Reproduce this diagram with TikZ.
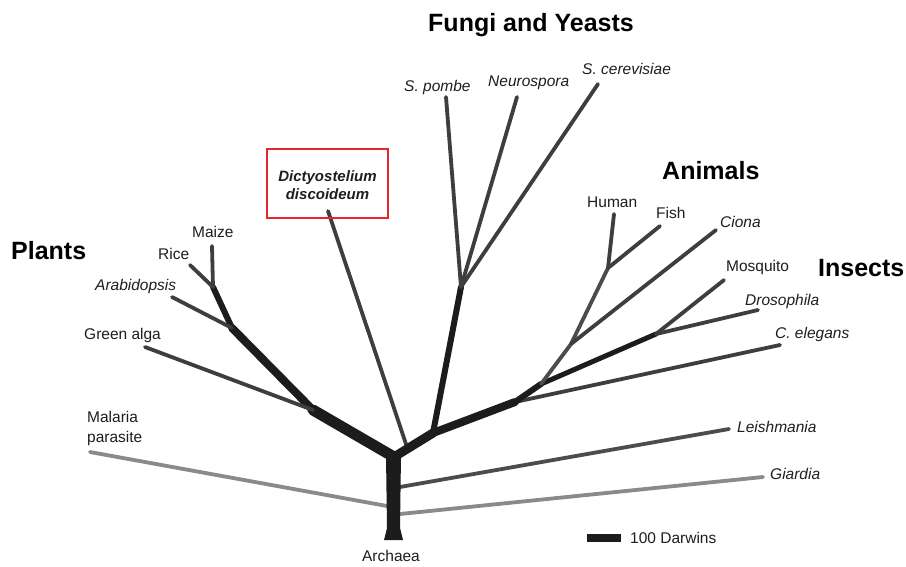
\documentclass[tikz,border=0pt]{standalone}
\usepackage{fontspec}
\setmainfont{Liberation Sans}
\begin{document}
\begin{tikzpicture}[x=1pt,y=-1pt,
  lbl/.style={inner sep=0pt,anchor=west,font=\fontsize{15.5}{17}\selectfont},
  ilbl/.style={lbl,font=\fontsize{15.5}{17}\selectfont\itshape},
  grp/.style={inner sep=0pt,anchor=west,font=\fontsize{25}{28}\selectfont\bfseries},
  br/.style={line cap=round,line join=round},
  leaf/.style={br,line width=3.8pt,draw=midgray},
  thick/.style={br,draw=treeblack}]
\definecolor{treeblack}{HTML}{1C1C1C}
\definecolor{midgray}{HTML}{3E3E3E}
\definecolor{grayb}{HTML}{4C4C4C}
\definecolor{lightgray2}{HTML}{8A8A8A}
\definecolor{boxred}{HTML}{E2262B}
\definecolor{txt}{HTML}{1E1E1E}
\useasboundingbox (0,0) rectangle (906,566);
\fill[white] (0,0) rectangle (906,566);

% junction coordinates
\coordinate (root) at (394,457);
\coordinate (pl1) at (313,410);
\coordinate (pl2) at (232,328);
\coordinate (pl3) at (213,287);
\coordinate (rj) at (433,433);
\coordinate (fj) at (461,287);
\coordinate (aj) at (515,402);
\coordinate (aj2) at (541,384);
\coordinate (ij) at (656,334);
\coordinate (cj) at (571,344);
\coordinate (vj) at (608,268);
\coordinate (tl) at (400,487);
\coordinate (tg) at (400,514);
\coordinate (tm) at (387,506);
\coordinate (td) at (407,447);

% leaf end coordinates
\coordinate (emaize) at (212,246);
\coordinate (erice) at (190,265);
\coordinate (earab) at (172,297);
\coordinate (ealga) at (145,347);
\coordinate (emal) at (90,452);
\coordinate (edict) at (328,211);
\coordinate (epombe) at (446,97);
\coordinate (eneuro) at (517,97);
\coordinate (ecere) at (598,84);
\coordinate (ehuman) at (614,214);
\coordinate (efish) at (660,226);
\coordinate (eciona) at (716,230);
\coordinate (emosq) at (724,280);
\coordinate (edros) at (758,310);
\coordinate (eeleg) at (780,345);
\coordinate (eleish) at (729,429);
\coordinate (egiar) at (763,477);

% light and grey leaves (behind)
\draw[br,line width=3.8pt,draw=lightgray2] (tm) -- (emal);
\draw[br,line width=3.8pt,draw=lightgray2] (tg) -- (egiar);
\draw[br,line width=3.8pt,draw=grayb] (tl) -- (eleish);

% trunk
\fill[treeblack] (386,455) -- (401,455) -- (400,528) -- (403,540) -- (384,540) -- (387,528) -- cycle;

% plant branch
\draw[thick,line width=11pt] (root) -- (pl1);
\draw[thick,line width=8pt] (pl1) -- (pl2);
\draw[thick,line width=6pt] (pl2) -- (pl3);
\draw[leaf] (pl1) -- (ealga);
\draw[leaf] (pl2) -- (earab);
\draw[leaf] (pl3) -- (erice);
\draw[leaf] (pl3) -- (emaize);

% Dictyostelium
\draw[leaf] (td) -- (edict);

% right side
\draw[thick,line width=9pt] (root) -- (rj);
\draw[thick,line width=6pt] (rj) -- (fj);
\draw[leaf] (fj) -- (epombe);
\draw[leaf] (fj) -- (eneuro);
\draw[leaf] (fj) -- (ecere);
\draw[thick,line width=8pt] (rj) -- (aj);
\draw[leaf] (aj) -- (eeleg);
\draw[thick,line width=6pt] (aj) -- (aj2);
\draw[thick,line width=5pt] (aj2) -- (ij);
\draw[leaf] (ij) -- (emosq);
\draw[leaf] (ij) -- (edros);
\draw[leaf,draw=grayb] (aj2) -- (cj);
\draw[leaf,draw=grayb] (cj) -- (vj);
\draw[leaf] (cj) -- (eciona);
\draw[leaf] (vj) -- (ehuman);
\draw[leaf] (vj) -- (efish);

% group labels
\node[grp] (gfungi) at (428,25) {Fungi and Yeasts};
\node[grp] (ganim) at (662,171) {Animals};
\node[grp] (ginsect) at (818,268) {Insects};
\node[grp] (gplants) at (11,251) {Plants};

% species labels
\begin{scope}[every node/.append style={text=txt}]
\node[lbl] (lmaize) at (192,232) {Maize};
\node[lbl] (lrice) at (158,254) {Rice};
\node[ilbl] (larab) at (95,286) {Arabidopsis};
\node[lbl] (lalga) at (84,335) {Green alga};
\node[lbl,align=left,font=\fontsize{15.5}{20}\selectfont] (lmal) at (87,428) {Malaria\\parasite};
\node[lbl,anchor=center] (larch) at (391,556) {Archaea};
\node[ilbl] (lpombe) at (404,87) {S. pombe};
\node[ilbl] (lneuro) at (488,83) {Neurospora};
\node[ilbl] (lcere) at (582,69) {S. cerevisiae};
\node[lbl] (lhuman) at (587,202) {Human};
\node[lbl] (lfish) at (656,213) {Fish};
\node[ilbl] (lciona) at (720,222) {Ciona};
\node[lbl] (lmosq) at (726,267) {Mosquito};
\node[ilbl] (ldros) at (745,301) {Drosophila};
\node[ilbl] (leleg) at (775,334) {C. elegans};
\node[ilbl] (lleish) at (737,427) {Leishmania};
\node[ilbl] (lgiar) at (770,474) {Giardia};
\end{scope}

% Dictyostelium box
\draw[boxred,line width=1.8pt] (267,149) rectangle (388,218);
\node[inner sep=0pt,align=center,text=txt,font=\fontsize{15}{18}\selectfont\bfseries\itshape] (ldict) at (327.5,185) {Dictyostelium\\discoideum};

% scale bar
\coordinate (sb1) at (587,538);
\coordinate (sb2) at (621,538);
\draw[treeblack,line width=8pt] (sb1) -- (sb2);
\node[lbl,text=txt] (lscale) at (630,538) {100 Darwins};
\end{tikzpicture}
\end{document}
